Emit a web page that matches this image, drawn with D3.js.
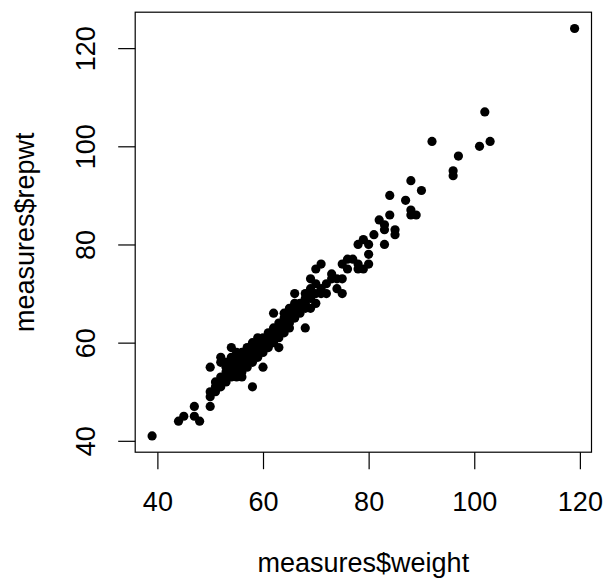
<!DOCTYPE html>
<html>
<head>
<meta charset="utf-8">
<script src="https://cdn.jsdelivr.net/npm/d3@7"></script>
<style>
  body { margin: 0; background: #fff; }
  text { font-family: "Liberation Sans", Arial, Helvetica, sans-serif; }
</style>
</head>
<body>
<div id="chart"></div>
<script>
const weight = [39, 44, 45, 47, 47, 48, 50, 50, 50, 51, 50, 51, 51, 52, 52, 52, 52, 52,
  53, 53, 53, 53, 53, 54, 54, 54, 54, 54, 54, 55, 55, 55, 55, 55, 55,
  56, 56, 56, 56, 56, 56, 57, 57, 57, 57, 57, 58, 58, 58, 58, 58, 58,
  59, 59, 59, 59, 59, 60, 60, 60, 60, 60, 61, 61, 61, 61, 62, 62, 62, 62, 62,
  63, 63, 63, 63, 63, 64, 64, 64, 64, 64, 65, 65, 65, 65, 65, 66, 66, 66, 66, 66,
  67, 67, 67, 68, 68, 68, 68, 68, 69, 69, 69, 69, 69, 70, 70, 70, 70, 71, 71, 71,
  72, 72, 73, 73, 74, 74, 75, 75, 75, 76, 76, 77, 78, 78, 78, 79, 79, 80, 80, 80,
  81, 82, 83, 83, 83, 84, 84, 85, 85, 87, 88, 88, 88, 89, 90, 92, 96, 96, 97,
  101, 102, 103, 119];
const repwt = [41, 44, 45, 47, 45, 44, 47, 49, 50, 50, 55, 51, 52, 52, 51, 53, 57, 56,
  52, 54, 53, 55, 56, 53, 54, 55, 56, 59, 57, 54, 55, 56, 53, 57, 58,
  54, 55, 56, 57, 58, 53, 56, 57, 58, 59, 55, 51, 57, 58, 59, 60, 56,
  57, 58, 59, 61, 60, 55, 59, 60, 61, 58, 60, 61, 62, 59, 61, 62, 63, 66, 60,
  59, 61, 62, 64, 63, 62, 63, 64, 65, 66, 64, 65, 66, 67, 63, 65, 66, 67, 70, 68,
  66, 67, 68, 63, 67, 68, 69, 70, 67, 69, 70, 71, 73, 68, 70, 75, 72, 71, 76, 70,
  70, 72, 74, 73, 73, 71, 73, 70, 76, 77, 75, 77, 80, 75, 76, 81, 75, 80, 78, 76,
  82, 85, 84, 83, 80, 86, 90, 83, 82, 89, 93, 87, 86, 86, 91, 101, 95, 94, 98,
  100, 107, 101, 124];
const xTicks = [40, 60, 80, 100, 120];
const yTicks = [40, 60, 80, 100, 120];

const svg_w = 605;
const svg_h = 581;
// plot region (R style box)
const plotL = 135.2, plotR = 591.5, plotT = 12.2, plotB = 452.2;
const tickLen = 17;
const fontSize = 27;

const data = weight.map((w, i) => ({ x: w, y: repwt[i] }));

// R pads the data range by 4% on each side
const xr = d3.extent(weight), yr = d3.extent(repwt);
const xPad = (xr[1] - xr[0]) * 0.04, yPad = (yr[1] - yr[0]) * 0.04;

const xScale = d3.scaleLinear()
  .domain([xr[0] - xPad, xr[1] + xPad])
  .range([plotL, plotR]);
const yScale = d3.scaleLinear()
  .domain([yr[0] - yPad, yr[1] + yPad])
  .range([plotB, plotT]);

const svg = d3.select("#chart")
  .append("svg")
  .attr("width", svg_w)
  .attr("height", svg_h);

// points
svg.append("g")
  .selectAll("circle")
  .data(data)
  .enter()
  .append("circle")
  .attr("cx", d => xScale(d.x))
  .attr("cy", d => yScale(d.y))
  .attr("r", 4.6)
  .attr("fill", "#000");

// box
svg.append("rect")
  .attr("x", plotL)
  .attr("y", plotT)
  .attr("width", plotR - plotL)
  .attr("height", plotB - plotT)
  .attr("fill", "none")
  .attr("stroke", "#000")
  .attr("stroke-width", 1.2);

// x axis
const xAxis = d3.axisBottom(xScale)
  .tickValues(xTicks)
  .tickSize(tickLen);
const gx = svg.append("g")
  .attr("transform", "translate(0," + plotB + ")")
  .call(xAxis);
gx.select(".domain").remove();
gx.selectAll("line").attr("stroke", "#000").attr("stroke-width", 1.2);
// baseline about 1.8 lines under the box, like R
gx.selectAll("text")
  .attr("fill", "#000")
  .attr("y", 59)
  .attr("dy", null)
  .style("font-size", fontSize + "px")
  .style("font-family", "Liberation Sans, Arial, sans-serif");

// y axis, labels turned like R's las = 0
const yAxis = d3.axisLeft(yScale)
  .tickValues(yTicks)
  .tickSize(tickLen);
const gy = svg.append("g")
  .attr("transform", "translate(" + plotL + ",0)")
  .call(yAxis);
gy.select(".domain").remove();
gy.selectAll("line").attr("stroke", "#000").attr("stroke-width", 1.2);
gy.selectAll("text")
  .attr("fill", "#000")
  .attr("transform", "rotate(-90)")
  .attr("x", 0)
  .attr("y", -40)
  .attr("dy", null)
  .style("text-anchor", "middle")
  .style("font-size", fontSize + "px")
  .style("font-family", "Liberation Sans, Arial, sans-serif");

// axis titles
svg.append("text")
  .attr("x", (plotL + plotR) / 2)
  .attr("y", 572)
  .attr("text-anchor", "middle")
  .style("font-size", fontSize + "px")
  .text("measures$weight");

svg.append("text")
  .attr("transform", "rotate(-90)")
  .attr("x", -(plotT + plotB) / 2)
  .attr("y", 34)
  .attr("text-anchor", "middle")
  .style("font-size", fontSize + "px")
  .text("measures$repwt");
</script>
</body>
</html>
